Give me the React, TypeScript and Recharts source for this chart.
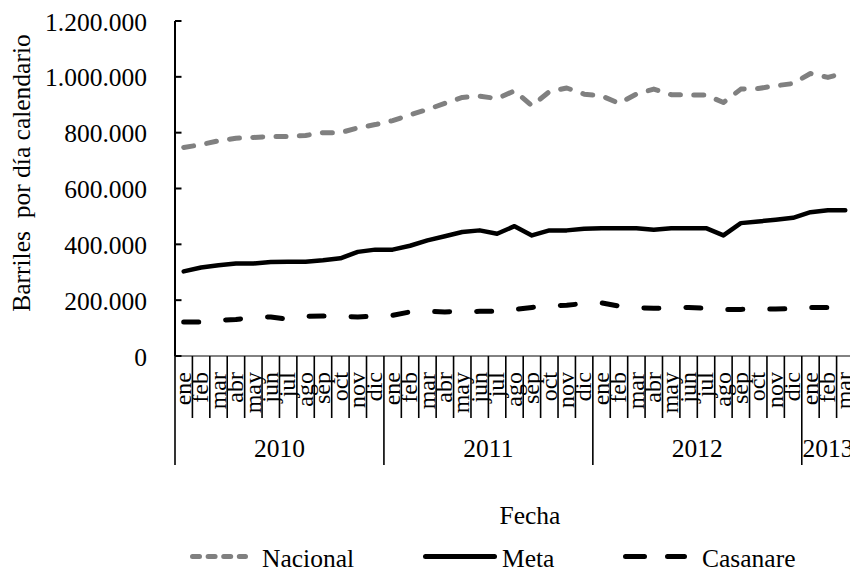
import React from 'react';
import { LineChart, Line, XAxis, YAxis } from 'recharts';

const monthNames = ['ene', 'feb', 'mar', 'abr', 'may', 'jun', 'jul', 'ago', 'sep', 'oct', 'nov', 'dic'];
const years = ['2010', '2011', '2012', '2013'];
const monthsInYear = [12, 12, 12, 3];

const nacional = [
  747000, 757000, 771000, 780000, 783000, 786000, 786000, 790000, 800000, 800000, 817000, 829000,
  843000, 864000, 883000, 905000, 926000, 931000, 922000, 950000, 896000, 947000, 960000, 938000,
  932000, 905000, 938000, 956000, 936000, 935000, 935000, 908000, 956000, 958000, 968000, 976000,
  1012000, 998000, 1015000,
];
const meta = [
  303000, 317000, 325000, 331000, 331000, 337000, 338000, 338000, 343000, 350000, 373000, 381000,
  381000, 395000, 414000, 429000, 444000, 450000, 438000, 465000, 432000, 450000, 450000, 456000,
  458000, 458000, 458000, 452000, 458000, 458000, 458000, 432000, 476000, 482000, 488000, 495000,
  515000, 522000, 522000,
];
const casanare = [
  122000, 122000, 128000, 131000, 138000, 140000, 131000, 142000, 143000, 141000, 140000, 143000,
  146000, 158000, 160000, 158000, 159000, 160000, 160000, 167000, 174000, 180000, 182000, 188000,
  190000, 179000, 173000, 171000, 172000, 174000, 171000, 167000, 167000, 168000, 168000, 170000,
  174000, 174000, 174000,
];
const yTicks = [0, 200000, 400000, 600000, 800000, 1000000, 1200000];

const seriesNames = ['Nacional', 'Meta', 'Casanare'];

const categories = years.flatMap((yr, yi) =>
  monthNames.slice(0, monthsInYear[yi]).map((m, mi) => ({
    key: `${m}-${yr}`,
    month: m,
    year: yr,
    pos: mi,
    count: monthsInYear[yi],
  }))
);

const data = categories.map((c, i) => ({
  ...c,
  nacional: nacional[i],
  meta: meta[i],
  casanare: casanare[i],
}));

const CHART_W = 854;
const AXIS_W = 175;
const HALF = (CHART_W - AXIS_W) / data.length / 2;

const FONT = '"Liberation Serif", "Times New Roman", serif';
const BIG = 25.5;
const MONTH_FS = 24;

const txt = (size: number) => ({ fontFamily: FONT, fontSize: `${size}px`, fill: '#000' });

const fmt = (v: number) => String(v).replace(/\B(?=(\d{3})+(?!\d))/g, '.');

const YTick = (props: any) => {
  const { x, y, payload } = props;
  const margin = 28;
  return (
    <g>
      <line x1={x + margin} x2={x + margin + 6.5} y1={y} y2={y} stroke="#000" strokeWidth={2} />
      <text x={x} y={y + 9.5} textAnchor="end" fontFamily={FONT} fontSize={BIG} style={txt(BIG)}>
        {fmt(payload.value)}
      </text>
    </g>
  );
};

const MonthTick = (props: any) => {
  const { x, y, index } = props;
  const c = data[index];
  const left = x - HALF;
  const right = x + HALF;
  const short = 62;
  const long = 109;
  const ty = y + 16;
  return (
    <g>
      <line x1={left} x2={left} y1={y} y2={y + (c.pos === 0 ? long : short)} stroke="#000" strokeWidth={1.6} />
      {index === data.length - 1 ? (
        <line x1={right} x2={right} y1={y} y2={y + long} stroke="#000" strokeWidth={1.6} />
      ) : null}
      <text
        x={x}
        y={ty}
        dy="0.3em"
        transform={`rotate(-90, ${x}, ${ty})`}
        textAnchor="end"
        fontFamily={FONT}
        fontSize={MONTH_FS}
        style={txt(MONTH_FS)}
      >
        {c.month}
      </text>
    </g>
  );
};

const YearTick = (props: any) => {
  const { x, y, index } = props;
  const c = data[index];
  if (c.pos !== Math.floor((c.count - 1) / 2)) return <g />;
  const cx = c.count % 2 === 0 ? x + HALF : x;
  return (
    <text x={cx} y={y + 39} textAnchor="middle" fontFamily={FONT} fontSize={BIG} style={txt(BIG)}>
      {c.year}
    </text>
  );
};

export default function App() {
  return (
    <div
      style={{
        position: 'absolute',
        left: 0,
        top: 0,
        width: 850,
        height: 572,
        overflow: 'hidden',
        background: '#fff',
        fontFamily: FONT,
      }}
    >
      <LineChart
        width={CHART_W}
        height={572}
        data={data}
        margin={{ top: 21, right: 0, bottom: 106, left: 0 }}
      >
        <XAxis
          xAxisId="m"
          dataKey="key"
          height={62}
          interval={0}
          tickSize={0}
          tickMargin={0}
          tickLine={false}
          padding={{ left: HALF, right: HALF }}
          axisLine={{ stroke: '#595959', strokeWidth: 1.5 }}
          tick={(p: any) => <MonthTick {...p} />}
        />
        <XAxis
          xAxisId="y"
          dataKey="key"
          height={48}
          interval={0}
          tickSize={0}
          tickMargin={0}
          tickLine={false}
          axisLine={false}
          padding={{ left: HALF, right: HALF }}
          tick={(p: any) => <YearTick {...p} />}
        />
        <YAxis
          width={AXIS_W}
          domain={[0, 1200000]}
          ticks={yTicks}
          interval={0}
          tickSize={0}
          tickMargin={28}
          tickLine={false}
          axisLine={{ stroke: '#000', strokeWidth: 2 }}
          tick={(p: any) => <YTick {...p} />}
        />
        <Line
          xAxisId="m"
          type="linear"
          dataKey="nacional"
          name={seriesNames[0]}
          stroke="#808080"
          strokeWidth={5}
          strokeDasharray="10 13.3"
          strokeLinecap="round"
          strokeLinejoin="round"
          dot={false}
          activeDot={false}
          isAnimationActive={false}
        />
        <Line
          xAxisId="m"
          type="linear"
          dataKey="meta"
          name={seriesNames[1]}
          stroke="#000"
          strokeWidth={4.5}
          strokeLinecap="round"
          strokeLinejoin="round"
          dot={false}
          activeDot={false}
          isAnimationActive={false}
        />
        <Line
          xAxisId="m"
          type="linear"
          dataKey="casanare"
          name={seriesNames[2]}
          stroke="#000"
          strokeWidth={5}
          strokeDasharray="15 27"
          strokeLinecap="round"
          strokeLinejoin="round"
          dot={false}
          activeDot={false}
          isAnimationActive={false}
        />
      </LineChart>
      <svg
        width={850}
        height={572}
        style={{ position: 'absolute', left: 0, top: 0, pointerEvents: 'none' }}
      >
        <text
          transform="rotate(-90)"
          x={-173}
          y={30}
          textAnchor="middle"
          style={{ ...txt(BIG), whiteSpace: 'pre' }}
        >
          {'Barriles  por día calendario'}
        </text>
        <text x={530} y={524} textAnchor="middle" style={txt(BIG)}>
          Fecha
        </text>
        <line x1={192.5} x2={245.5} y1={556.5} y2={556.5} stroke="#808080" strokeWidth={5} strokeDasharray="7 8.6" strokeLinecap="round" />
        <text x={262} y={567} style={txt(BIG)}>{seriesNames[0]}</text>
        <line x1={425.5} x2={494.5} y1={556.5} y2={556.5} stroke="#000" strokeWidth={5} strokeLinecap="round" />
        <text x={502} y={567} style={txt(BIG)}>{seriesNames[1]}</text>
        <line x1={625.5} x2={684.5} y1={556.5} y2={556.5} stroke="#000" strokeWidth={5} strokeDasharray="19 23" strokeLinecap="round" />
        <text x={702} y={567} style={txt(BIG)}>{seriesNames[2]}</text>
      </svg>
    </div>
  );
}
